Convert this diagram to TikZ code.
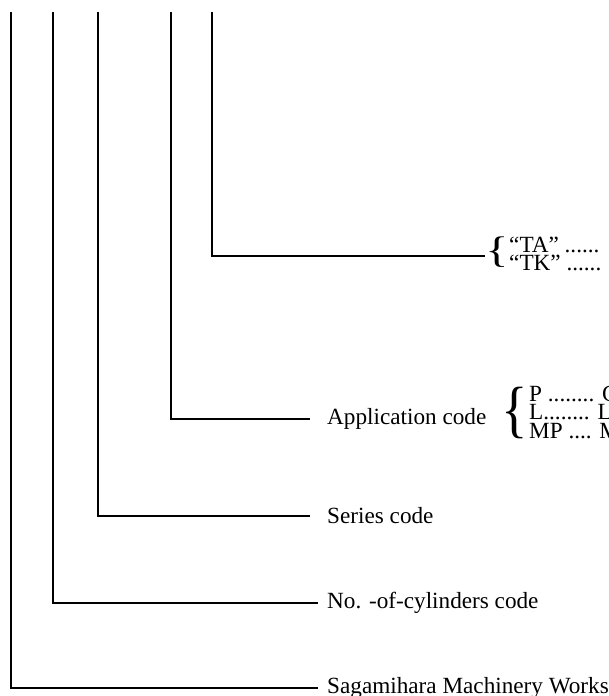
\documentclass[tikz,border=0pt]{standalone}
\usepackage{fontspec}
\usepackage{graphicx}
\setmainfont{Liberation Serif}
\usetikzlibrary{positioning}
\tikzset{lead/.style={line width=2.2pt},
  lbl/.style={anchor=west,inner ysep=0pt,font=\fontsize{23.2}{18.5}\selectfont},
  opts/.style={lbl,inner sep=0pt,align=left},
  brc/.style={inner sep=0pt}}
% a printed curly brace of given size and x-stretch
\newcommand{\curly}[2]{\scalebox{#2}[1]{\fontsize{#1}{#1}\selectfont\{}}

\begin{document}
\begin{tikzpicture}[x=1pt,y=-1pt]
\useasboundingbox (0,0) rectangle (609,696);
% tops of the code digits
\coordinate (d1) at (11,12);
\coordinate (d2) at (53,12);
\coordinate (d3) at (98,12);
\coordinate (d4) at (171,12);
\coordinate (d5) at (212,12);
% labels
\node[lbl,inner xsep=9pt] (sag) at (318,688) {Sagamihara Machinery Works};
\node[lbl,inner xsep=9pt] (cyl) at (318,603) {No. -of-cylinders code};
\node[lbl,inner xsep=17pt] (ser) at (310,516) {Series code};
\node[lbl,inner xsep=17pt] (app) at (310,419) {Application code};
\node[brc] (appbr) at (515,413) {\curly{62.5}{0.88}};
\node[opts] (appopt) at (529,412) {P ........ C\\L........ L\\MP .... M};
\node[brc] (tabr) at (497,252) {\curly{37}{1.3}};
\node[opts] (taopt) at (509,254) {“TA” ......\\“TK” ......};
% leaders
\draw[lead] (d1) |- (sag.west);
\draw[lead] (d2) |- (cyl.west);
\draw[lead] (d3) |- (ser.west);
\draw[lead] (d4) |- (app.west);
\draw[lead] (d5) |- (tabr.west |- 0,256);
\end{tikzpicture}
\end{document}
